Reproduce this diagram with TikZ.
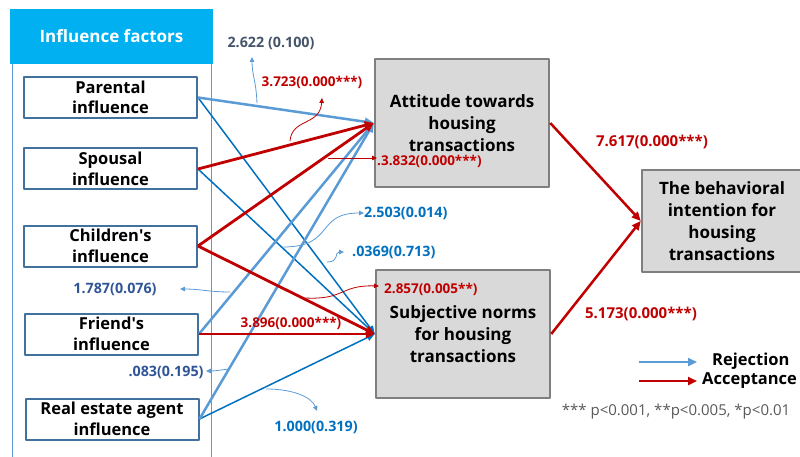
\documentclass[tikz,border=0pt]{standalone}
\usepackage{fontspec}
\setmainfont{Open Sans}
\usetikzlibrary{arrows.meta}

\definecolor{hdrblue}{HTML}{00B0F0}
\definecolor{lblue}{HTML}{5B9BD5}
\definecolor{dblue}{HTML}{0070C0}
\definecolor{slate}{HTML}{44546A}
\definecolor{steel}{HTML}{2F5597}
\definecolor{accred}{HTML}{C00000}
\definecolor{frame}{HTML}{41719C}
\definecolor{boxgray}{HTML}{D9D9D9}
\definecolor{edgegray}{HTML}{7F7F7F}

\tikzset{
  factor/.style={draw=frame,line width=2pt,fill=white,minimum width=173pt,
    minimum height=41pt,align=center,inner sep=0pt,
    font=\bfseries\fontsize{16.5}{20.5}\selectfont},
  construct/.style={draw=edgegray,line width=2.5pt,fill=boxgray,align=center,
    inner sep=0pt,font=\bfseries\fontsize{17}{22}\selectfont},
  rej/.style={lblue,line width=2.5pt,-{Triangle[length=9pt,width=8pt]}},
  thinrej/.style={dblue,line width=1.5pt,-{Triangle[length=8pt,width=7pt]}},
  acc/.style={accred,line width=2.8pt,-{Triangle[length=9pt,width=8pt]}},
  ptr/.style={line width=0.8pt,-{Triangle[length=5pt,width=4.5pt]}},
  val/.style={font=\bfseries\fontsize{13.5}{15}\selectfont,inner sep=0pt},
  bigval/.style={font=\bfseries\fontsize{15}{17}\selectfont,inner sep=0pt},
  bval/.style={font=\bfseries\fontsize{14.3}{16}\selectfont,inner sep=0pt}
}

\begin{document}
\begin{tikzpicture}[x=1pt,y=-1pt,line join=round]
    \useasboundingbox (0,0) rectangle (800,457);
    % left panel
    \draw[lblue,line width=1pt] (12,62)--(12,460);
    \draw[lblue,line width=1pt] (211,62)--(211,460);
    \node[fill=hdrblue,minimum width=203pt,minimum height=55pt,inner sep=0pt,
      text=white,font=\bfseries\fontsize{17}{20}\selectfont] (hdr) at (111.5,36.5) {Influence factors};
    \node[factor] (par) at (110.5,97.5) {Parental\\influence};
    \node[factor] (spo) at (110.5,169) {Spousal\\influence};
    \node[factor] (chi) at (110.5,246) {Children\textquotesingle s\\influence};
    \node[factor] (fri) at (111.5,334) {Friend\textquotesingle s\\influence};
    \node[factor] (rea) at (112,419) {Real estate agent\\influence};
    % constructs
    \node[construct,minimum width=174pt,minimum height=128pt] (att) at (462,123) {Attitude towards\\housing\\transactions};
    \node[construct,minimum width=174pt,minimum height=128pt] (sub) at (463,334) {Subjective norms\\for housing\\transactions};
    \node[construct,minimum width=160pt,minimum height=102pt] (beh) at (722,221) {The behavioral\\intention for\\housing\\transactions};
    % paths
    \draw[thinrej] (par.east)--(sub.west);
    \draw[thinrej] (spo.east)--(sub.west);
    \draw[thinrej] (rea.east)--(sub.west);
    \draw[rej] (par.east)--(att.west);
    \draw[rej] (fri.east)--(att.west);
    \draw[rej] (rea.east)--(att.west);
    \draw[acc] (spo.east)--(att.west);
    \draw[acc] (chi.east)--(att.west);
    \draw[acc] (chi.east)--(sub.west);
    \draw[acc] (fri.east)--(sub.west);
    \draw[acc,line width=2.5pt] (att.east)--(beh.west);
    \draw[acc,line width=2.5pt] (sub.east)--(beh.west);
    % coefficients
    \node[bval,slate] (c1) at (271,43) {2.622 (0.100)};
    \draw[ptr,lblue] (257,103) .. controls (256,80) and (252,75) .. (252,57);
    \node[val,accred] (c2) at (312,82) {3.723(0.000***)};
    \draw[ptr,accred] (290,141) .. controls (292,118) and (320,126) .. (322,98);
    \node[val,accred,anchor=west] (c3) at (377,161) {.3.832(0.000***)};
    \draw[ptr,accred] (328,158)--(c3.west |- 0,158);
    \node[bval,dblue,anchor=west] (c4) at (364,213) {2.503(0.014)};
    \draw[ptr,lblue] (283,247) .. controls (335,247) and (315,213) .. (c4.west);
    \node[bval,dblue,anchor=west] (c5) at (352,252) {.0369(0.713)};
    \draw[ptr,lblue] (327,262) .. controls (340,262) and (334,252) .. (344,252);
    \node[bval,steel] (c6) at (115,289) {1.787(0.076)};
    \draw[ptr,lblue] (230,292) .. controls (210,292) and (200,289) .. (180,289);
    \node[val,accred,anchor=west] (c7) at (384,289) {2.857(0.005**)};
    \draw[ptr,accred] (305,298) .. controls (345,300) and (340,285) .. (379,286);
    \node[val,accred] (c8) at (291,323) {3.896(0.000***)};
    \node[bval,steel] (c9) at (166,372) {.083(0.195)};
    \draw[ptr,lblue] (230,369) .. controls (220,370) and (215,371) .. (206,371);
    \node[bval,dblue] (c10) at (316,427) {1.000(0.319)};
    \draw[ptr,lblue] (266,389) .. controls (295,389) and (312,398) .. (317,411);
    \node[bigval,accred] (c11) at (652,142) {7.617(0.000***)};
    \node[bigval,accred] (c12) at (641,314) {5.173(0.000***)};
    % legend
    \coordinate (l1) at (639,362);
    \coordinate (l2) at (639,381);
    \draw[lblue,line width=2.5pt,-{Triangle[length=9pt,width=8pt]}] (l1)--++(58,0);
    \draw[accred,line width=2.5pt,-{Triangle[length=9pt,width=8pt]}] (l2)--++(58,0);
    \node[font=\bfseries\fontsize{16.5}{18}\selectfont,anchor=west,inner sep=0pt] (rj) at (712,361) {Rejection};
    \node[font=\bfseries\fontsize{16.5}{18}\selectfont,anchor=west,inner sep=0pt] (ac) at (702,381) {Acceptance};
    \node[text=black!65,font=\fontsize{15}{17}\selectfont] (note) at (676,412) {*** p<0.001, **p<0.005, *p<0.01};
\end{tikzpicture}
\end{document}
